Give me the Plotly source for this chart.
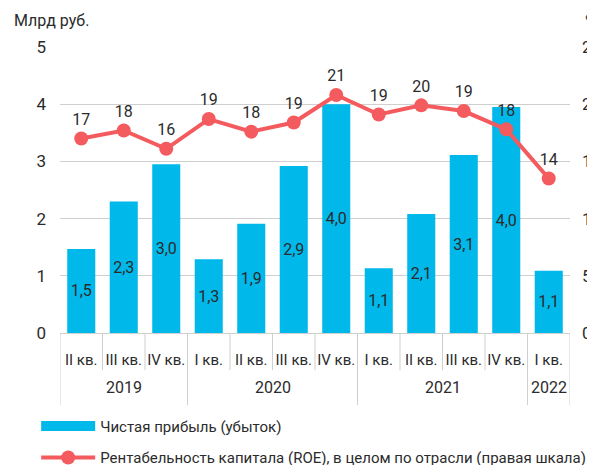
import plotly.graph_objects as go

years = ["2019", "2019", "2019", "2020", "2020", "2020", "2020",
         "2021", "2021", "2021", "2021", "2022"]
quarters = ["II кв.", "III кв.", "IV кв.", "I кв.", "II кв.", "III кв.", "IV кв.",
            "I кв.", "II кв.", "III кв.", "IV кв.", "I кв."]
net_profit = [1.47, 2.30, 2.95, 1.29, 1.91, 2.92, 4.00, 1.13, 2.08, 3.11, 3.95, 1.09]
profit_labels = ["1,5", "2,3", "3,0", "1,3", "1,9", "2,9", "4,0", "1,1", "2,1", "3,1", "4,0", "1,1"]
roe = [17.0, 17.7, 16.1, 18.7, 17.6, 18.4, 20.8, 19.1, 19.9, 19.4, 17.8, 13.5]
roe_labels = ["17", "18", "16", "19", "18", "19", "21", "19", "20", "19", "18", "14"]
left_ticks = [0, 1, 2, 3, 4, 5]
right_ticks = [0, 5, 10, 15, 20, 25]

BAR = "#00B8EA"
LINE = "#F45B5E"
TXT = "#2b2b2b"
GRID = "#cfcfcf"
FONT = "Roboto"

keys = [f"{y} {q}" for y, q in zip(years, quarters)]
n = len(keys)

fig = go.Figure()
fig.add_trace(go.Bar(
    x=keys, y=net_profit, name="Чистая прибыль (убыток)", showlegend=False,
    marker=dict(color=BAR, line=dict(width=0)),
    text=profit_labels, textposition="inside", insidetextanchor="middle",
    textfont=dict(color=TXT, size=16, family=FONT), textangle=0,
))
# legend entry for bars (wide swatch)
fig.add_trace(go.Scatter(
    x=[None], y=[None], mode="lines", name="Чистая прибыль (убыток)",
    line=dict(color=BAR, width=10), legendgroup="a",
))
fig.add_trace(go.Scatter(
    x=keys, y=roe, yaxis="y2", name="Рентабельность капитала (ROE), в целом по отрасли (правая шкала)",
    mode="lines+markers+text", line=dict(color=LINE, width=4),
    marker=dict(color=LINE, size=14), legendgroup="b",
    text=roe_labels, textposition="top center",
    textfont=dict(color=TXT, size=16, family=FONT),
    cliponaxis=False,
))

# separators: short between quarters, long between years
shapes = []
for i in range(n + 1):
    xb = i - 0.5
    is_year = i == 0 or i == n or years[i] != years[i - 1]
    y_end = -0.252 if is_year else -0.13
    shapes.append(dict(type="line", xref="x", yref="paper", x0=xb, x1=xb,
                       y0=0, y1=y_end, line=dict(color=GRID, width=1)))

annotations = [
    dict(text="Млрд руб.", xref="paper", yref="paper", x=-0.094, y=1.094,
         xanchor="left", yanchor="middle", showarrow=False,
         font=dict(size=16, color=TXT)),
    dict(text="%", xref="paper", yref="paper", x=1.026, y=1.09,
         xanchor="left", yanchor="middle", showarrow=False,
         font=dict(size=16, color=TXT)),
]
seen = []
for y in years:
    if y not in seen:
        seen.append(y)
for y in seen:
    idx = [i for i, yy in enumerate(years) if yy == y]
    annotations.append(dict(text=y, xref="x", yref="paper",
                            x=(idx[0] + idx[-1]) / 2, y=-0.189,
                            xanchor="center", yanchor="middle", showarrow=False,
                            font=dict(size=16, color=TXT)))

fig.update_layout(
    width=587, height=457,
    margin=dict(l=52, r=25, t=39, b=132, autoexpand=False),
    paper_bgcolor="white", plot_bgcolor="white",
    font=dict(family=FONT, size=16, color=TXT),
    showlegend=True,
    legend=dict(orientation="v", xref="container", yref="container",
                x=0.048, y=0.121, xanchor="left", yanchor="top",
                font=dict(size=15, color=TXT), itemwidth=54,
                tracegroupgap=9, bgcolor="rgba(0,0,0,0)"),
    bargap=0.34,
    xaxis=dict(type="category", showgrid=False, ticks="", automargin=False,
               tickvals=keys, ticktext=quarters, range=[-0.5, n - 0.5],
               showline=True, linecolor=GRID, linewidth=1,
               ticklabelstandoff=13,
               tickfont=dict(size=15, color=TXT)),
    yaxis=dict(range=[0, 5], tickvals=left_ticks, showgrid=True, gridcolor=GRID,
               zeroline=False, ticks="", ticklabelstandoff=13, automargin=False,
               tickfont=dict(size=17, color=TXT)),
    yaxis2=dict(range=[0, 25], tickvals=right_ticks, overlaying="y", side="right",
                showgrid=False, zeroline=False, ticks="", ticklabelstandoff=11,
                automargin=False, tickfont=dict(size=17, color=TXT)),
    shapes=shapes,
    annotations=annotations,
)

fig.write_html("out.html")
